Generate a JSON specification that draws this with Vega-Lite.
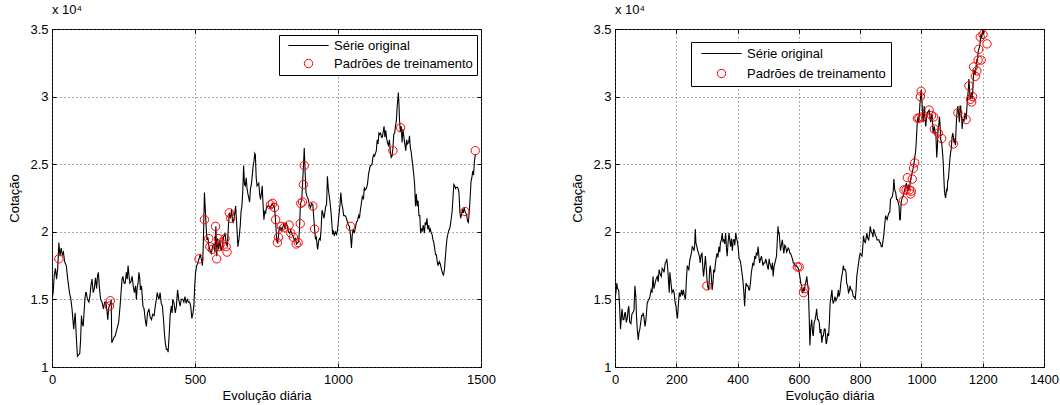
{
"$schema": "https://vega.github.io/schema/vega-lite/v6.json",
"padding": {"left": 8, "top": 3, "right": 5, "bottom": 2},
"background": "white",
"config": {
  "font": "Liberation Sans",
  "view": {"stroke": "black", "strokeWidth": 1},
  "axis": {"labelFont": "Liberation Sans", "titleFont": "Liberation Sans", "labelFontSize": 13, "titleFontSize": 13, "titleFontWeight": "normal", "labelColor": "black", "titleColor": "black", "tickColor": "black", "domain": false, "labelFlush": false, "gridColor": "#555", "gridDash": [1, 3], "gridOpacity": 1, "gridWidth": 1},
  "legend": {"labelFont": "Liberation Sans", "labelFontSize": 13, "labelColor": "black", "strokeColor": "black", "fillColor": "white", "padding": 4, "symbolStrokeWidth": 1, "symbolFillColor": "transparent", "symbolSize": 70, "rowPadding": 4, "symbolOffset": 19, "labelOffset": 19, "labelLimit": 300}
},
"datasets": {
"serieA": [
{"dia":0,"cotacao":15000},{"dia":4,"cotacao":15500},{"dia":8,"cotacao":16800},{"dia":12,"cotacao":17300},{"dia":16,"cotacao":16500},{"dia":20,"cotacao":17300},{"dia":24,"cotacao":19200},{"dia":28,"cotacao":18200},{"dia":32,"cotacao":18800},{"dia":36,"cotacao":18300},{"dia":40,"cotacao":18500},{"dia":44,"cotacao":17800},{"dia":50,"cotacao":17500},{"dia":55,"cotacao":16500},{"dia":61,"cotacao":15500},{"dia":66,"cotacao":15000},{"dia":70,"cotacao":14300},{"dia":73,"cotacao":13500},{"dia":76,"cotacao":12800},{"dia":79,"cotacao":13600},{"dia":81,"cotacao":14000},{"dia":85,"cotacao":12200},{"dia":89,"cotacao":10800},{"dia":93,"cotacao":10900},{"dia":97,"cotacao":11000},{"dia":100,"cotacao":12000},{"dia":103,"cotacao":13800},{"dia":106,"cotacao":13200},{"dia":109,"cotacao":13000},{"dia":112,"cotacao":14000},{"dia":115,"cotacao":15000},{"dia":118,"cotacao":15500},{"dia":120,"cotacao":15500},{"dia":124,"cotacao":15000},{"dia":129,"cotacao":14800},{"dia":133,"cotacao":15300},{"dia":136,"cotacao":16000},{"dia":140,"cotacao":16500},{"dia":144,"cotacao":15500},{"dia":148,"cotacao":15800},{"dia":152,"cotacao":16600},{"dia":156,"cotacao":15800},{"dia":159,"cotacao":16700},{"dia":162,"cotacao":17000},{"dia":166,"cotacao":15800},{"dia":170,"cotacao":15000},{"dia":175,"cotacao":14800},{"dia":180,"cotacao":14300},{"dia":184,"cotacao":14800},{"dia":188,"cotacao":14800},{"dia":192,"cotacao":14200},{"dia":195,"cotacao":13500},{"dia":198,"cotacao":14300},{"dia":200,"cotacao":14500},{"dia":204,"cotacao":14700},{"dia":207,"cotacao":15000},{"dia":209,"cotacao":11800},{"dia":213,"cotacao":12000},{"dia":217,"cotacao":12200},{"dia":221,"cotacao":12300},{"dia":227,"cotacao":12800},{"dia":233,"cotacao":13300},{"dia":238,"cotacao":14500},{"dia":242,"cotacao":15700},{"dia":245,"cotacao":16500},{"dia":248,"cotacao":16700},{"dia":252,"cotacao":16200},{"dia":256,"cotacao":16200},{"dia":260,"cotacao":17000},{"dia":263,"cotacao":16500},{"dia":266,"cotacao":17500},{"dia":269,"cotacao":16800},{"dia":272,"cotacao":16200},{"dia":276,"cotacao":16300},{"dia":280,"cotacao":16700},{"dia":284,"cotacao":16000},{"dia":288,"cotacao":15500},{"dia":292,"cotacao":16000},{"dia":295,"cotacao":15000},{"dia":298,"cotacao":15900},{"dia":301,"cotacao":16200},{"dia":304,"cotacao":17000},{"dia":307,"cotacao":16500},{"dia":309,"cotacao":15700},{"dia":313,"cotacao":16000},{"dia":318,"cotacao":14500},{"dia":322,"cotacao":14300},{"dia":326,"cotacao":13500},{"dia":330,"cotacao":13000},{"dia":334,"cotacao":14000},{"dia":339,"cotacao":14300},{"dia":343,"cotacao":13700},{"dia":348,"cotacao":13500},{"dia":352,"cotacao":13900},{"dia":357,"cotacao":13800},{"dia":361,"cotacao":14500},{"dia":365,"cotacao":15000},{"dia":368,"cotacao":15500},{"dia":371,"cotacao":15200},{"dia":374,"cotacao":15000},{"dia":378,"cotacao":15500},{"dia":382,"cotacao":14700},{"dia":386,"cotacao":14500},{"dia":390,"cotacao":13500},{"dia":393,"cotacao":12500},{"dia":396,"cotacao":11800},{"dia":400,"cotacao":11300},{"dia":404,"cotacao":11300},{"dia":406,"cotacao":11100},{"dia":410,"cotacao":12500},{"dia":413,"cotacao":13800},{"dia":417,"cotacao":14500},{"dia":420,"cotacao":14000},{"dia":422,"cotacao":15000},{"dia":426,"cotacao":14800},{"dia":431,"cotacao":14000},{"dia":435,"cotacao":14500},{"dia":439,"cotacao":15700},{"dia":443,"cotacao":15000},{"dia":448,"cotacao":14500},{"dia":452,"cotacao":15000},{"dia":457,"cotacao":15000},{"dia":461,"cotacao":14800},{"dia":465,"cotacao":15200},{"dia":469,"cotacao":14700},{"dia":473,"cotacao":15000},{"dia":477,"cotacao":14800},{"dia":481,"cotacao":14800},{"dia":485,"cotacao":14500},{"dia":489,"cotacao":13600},{"dia":493,"cotacao":14000},{"dia":496,"cotacao":14500},{"dia":499,"cotacao":16000},{"dia":502,"cotacao":17000},{"dia":506,"cotacao":17500},{"dia":510,"cotacao":17700},{"dia":514,"cotacao":18000},{"dia":518,"cotacao":18300},{"dia":522,"cotacao":18000},{"dia":526,"cotacao":17500},{"dia":529,"cotacao":19000},{"dia":533,"cotacao":22900},{"dia":537,"cotacao":21200},{"dia":540,"cotacao":20000},{"dia":542,"cotacao":19400},{"dia":545,"cotacao":19600},{"dia":549,"cotacao":18900},{"dia":553,"cotacao":18600},{"dia":557,"cotacao":18400},{"dia":561,"cotacao":18900},{"dia":566,"cotacao":19100},{"dia":570,"cotacao":18500},{"dia":573,"cotacao":20400},{"dia":576,"cotacao":18200},{"dia":579,"cotacao":19500},{"dia":583,"cotacao":18700},{"dia":587,"cotacao":19400},{"dia":591,"cotacao":18600},{"dia":595,"cotacao":18900},{"dia":600,"cotacao":19600},{"dia":605,"cotacao":19900},{"dia":609,"cotacao":19200},{"dia":613,"cotacao":18900},{"dia":617,"cotacao":20500},{"dia":620,"cotacao":21400},{"dia":624,"cotacao":21000},{"dia":628,"cotacao":21700},{"dia":631,"cotacao":20800},{"dia":634,"cotacao":20700},{"dia":638,"cotacao":21200},{"dia":642,"cotacao":21900},{"dia":646,"cotacao":20500},{"dia":650,"cotacao":18900},{"dia":654,"cotacao":19500},{"dia":658,"cotacao":20400},{"dia":661,"cotacao":21500},{"dia":664,"cotacao":21900},{"dia":667,"cotacao":23000},{"dia":670,"cotacao":24900},{"dia":673,"cotacao":23500},{"dia":676,"cotacao":23400},{"dia":679,"cotacao":24000},{"dia":682,"cotacao":23200},{"dia":685,"cotacao":22800},{"dia":688,"cotacao":22500},{"dia":691,"cotacao":22200},{"dia":694,"cotacao":23200},{"dia":697,"cotacao":23500},{"dia":700,"cotacao":24100},{"dia":703,"cotacao":24800},{"dia":706,"cotacao":25200},{"dia":709,"cotacao":25800},{"dia":711,"cotacao":25700},{"dia":714,"cotacao":24000},{"dia":717,"cotacao":23400},{"dia":720,"cotacao":23500},{"dia":723,"cotacao":23600},{"dia":726,"cotacao":22800},{"dia":729,"cotacao":22400},{"dia":732,"cotacao":22800},{"dia":735,"cotacao":23400},{"dia":738,"cotacao":22000},{"dia":741,"cotacao":20900},{"dia":744,"cotacao":21500},{"dia":747,"cotacao":21400},{"dia":750,"cotacao":21800},{"dia":754,"cotacao":21900},{"dia":758,"cotacao":21900},{"dia":762,"cotacao":21800},{"dia":766,"cotacao":21900},{"dia":770,"cotacao":22100},{"dia":774,"cotacao":21900},{"dia":778,"cotacao":21800},{"dia":781,"cotacao":21000},{"dia":784,"cotacao":20000},{"dia":786,"cotacao":19300},{"dia":789,"cotacao":19200},{"dia":792,"cotacao":19700},{"dia":795,"cotacao":20400},{"dia":798,"cotacao":20200},{"dia":801,"cotacao":20300},{"dia":804,"cotacao":20100},{"dia":808,"cotacao":20400},{"dia":811,"cotacao":20600},{"dia":815,"cotacao":20200},{"dia":819,"cotacao":20700},{"dia":823,"cotacao":20400},{"dia":827,"cotacao":20000},{"dia":831,"cotacao":19900},{"dia":835,"cotacao":20100},{"dia":839,"cotacao":19800},{"dia":843,"cotacao":19700},{"dia":847,"cotacao":19400},{"dia":851,"cotacao":19500},{"dia":855,"cotacao":19100},{"dia":859,"cotacao":19200},{"dia":863,"cotacao":19300},{"dia":866,"cotacao":20600},{"dia":868,"cotacao":21700},{"dia":870,"cotacao":22200},{"dia":873,"cotacao":22300},{"dia":876,"cotacao":23500},{"dia":879,"cotacao":24800},{"dia":882,"cotacao":26200},{"dia":885,"cotacao":24500},{"dia":888,"cotacao":22900},{"dia":892,"cotacao":22600},{"dia":896,"cotacao":22400},{"dia":900,"cotacao":22000},{"dia":904,"cotacao":21800},{"dia":908,"cotacao":22100},{"dia":912,"cotacao":22000},{"dia":915,"cotacao":21100},{"dia":918,"cotacao":20300},{"dia":921,"cotacao":19500},{"dia":924,"cotacao":19600},{"dia":927,"cotacao":19000},{"dia":929,"cotacao":18700},{"dia":932,"cotacao":19300},{"dia":935,"cotacao":19500},{"dia":938,"cotacao":19400},{"dia":941,"cotacao":20200},{"dia":944,"cotacao":21600},{"dia":947,"cotacao":21400},{"dia":951,"cotacao":21000},{"dia":954,"cotacao":21400},{"dia":957,"cotacao":21900},{"dia":960,"cotacao":22000},{"dia":963,"cotacao":24100},{"dia":966,"cotacao":23200},{"dia":969,"cotacao":22700},{"dia":972,"cotacao":22200},{"dia":975,"cotacao":21600},{"dia":978,"cotacao":20800},{"dia":981,"cotacao":19800},{"dia":984,"cotacao":20100},{"dia":987,"cotacao":19700},{"dia":991,"cotacao":20000},{"dia":995,"cotacao":19800},{"dia":998,"cotacao":20100},{"dia":1001,"cotacao":20700},{"dia":1004,"cotacao":21400},{"dia":1007,"cotacao":22000},{"dia":1010,"cotacao":22900},{"dia":1013,"cotacao":22100},{"dia":1016,"cotacao":21800},{"dia":1020,"cotacao":21200},{"dia":1024,"cotacao":21200},{"dia":1028,"cotacao":21100},{"dia":1032,"cotacao":20800},{"dia":1036,"cotacao":20500},{"dia":1040,"cotacao":20400},{"dia":1044,"cotacao":19700},{"dia":1047,"cotacao":18800},{"dia":1050,"cotacao":19800},{"dia":1053,"cotacao":20200},{"dia":1057,"cotacao":19900},{"dia":1061,"cotacao":20300},{"dia":1064,"cotacao":20700},{"dia":1068,"cotacao":20800},{"dia":1072,"cotacao":21200},{"dia":1075,"cotacao":21000},{"dia":1077,"cotacao":21400},{"dia":1081,"cotacao":22000},{"dia":1085,"cotacao":22600},{"dia":1089,"cotacao":22400},{"dia":1092,"cotacao":23300},{"dia":1095,"cotacao":23100},{"dia":1099,"cotacao":23200},{"dia":1103,"cotacao":23500},{"dia":1107,"cotacao":24300},{"dia":1110,"cotacao":24600},{"dia":1113,"cotacao":24900},{"dia":1116,"cotacao":24900},{"dia":1119,"cotacao":25000},{"dia":1122,"cotacao":25500},{"dia":1125,"cotacao":25700},{"dia":1128,"cotacao":25600},{"dia":1131,"cotacao":25800},{"dia":1134,"cotacao":26000},{"dia":1137,"cotacao":26800},{"dia":1140,"cotacao":26500},{"dia":1143,"cotacao":27300},{"dia":1146,"cotacao":27200},{"dia":1149,"cotacao":27300},{"dia":1152,"cotacao":27000},{"dia":1155,"cotacao":27000},{"dia":1158,"cotacao":27400},{"dia":1161,"cotacao":27800},{"dia":1164,"cotacao":27000},{"dia":1167,"cotacao":27500},{"dia":1170,"cotacao":26900},{"dia":1173,"cotacao":26600},{"dia":1176,"cotacao":26400},{"dia":1180,"cotacao":26800},{"dia":1183,"cotacao":25900},{"dia":1186,"cotacao":25500},{"dia":1189,"cotacao":25600},{"dia":1192,"cotacao":26200},{"dia":1195,"cotacao":27200},{"dia":1198,"cotacao":27300},{"dia":1201,"cotacao":27800},{"dia":1204,"cotacao":28200},{"dia":1207,"cotacao":29300},{"dia":1210,"cotacao":30000},{"dia":1211,"cotacao":30300},{"dia":1213,"cotacao":29500},{"dia":1215,"cotacao":28300},{"dia":1218,"cotacao":27400},{"dia":1221,"cotacao":27800},{"dia":1224,"cotacao":26600},{"dia":1227,"cotacao":27600},{"dia":1230,"cotacao":27100},{"dia":1233,"cotacao":26600},{"dia":1237,"cotacao":26000},{"dia":1240,"cotacao":26800},{"dia":1243,"cotacao":26500},{"dia":1247,"cotacao":26600},{"dia":1250,"cotacao":27100},{"dia":1253,"cotacao":26200},{"dia":1256,"cotacao":25900},{"dia":1259,"cotacao":25300},{"dia":1262,"cotacao":24800},{"dia":1265,"cotacao":24200},{"dia":1268,"cotacao":23500},{"dia":1271,"cotacao":21900},{"dia":1274,"cotacao":22800},{"dia":1277,"cotacao":21900},{"dia":1280,"cotacao":22300},{"dia":1283,"cotacao":21200},{"dia":1286,"cotacao":21200},{"dia":1289,"cotacao":19900},{"dia":1292,"cotacao":20200},{"dia":1295,"cotacao":20100},{"dia":1298,"cotacao":20500},{"dia":1302,"cotacao":19900},{"dia":1305,"cotacao":20700},{"dia":1308,"cotacao":20500},{"dia":1311,"cotacao":21000},{"dia":1314,"cotacao":20200},{"dia":1317,"cotacao":20500},{"dia":1320,"cotacao":20000},{"dia":1323,"cotacao":20200},{"dia":1326,"cotacao":19900},{"dia":1329,"cotacao":19800},{"dia":1332,"cotacao":19400},{"dia":1335,"cotacao":19200},{"dia":1338,"cotacao":18800},{"dia":1341,"cotacao":18300},{"dia":1344,"cotacao":18300},{"dia":1347,"cotacao":17800},{"dia":1350,"cotacao":17500},{"dia":1354,"cotacao":17800},{"dia":1358,"cotacao":17600},{"dia":1362,"cotacao":17200},{"dia":1366,"cotacao":16900},{"dia":1369,"cotacao":16800},{"dia":1372,"cotacao":17200},{"dia":1375,"cotacao":18000},{"dia":1378,"cotacao":18800},{"dia":1381,"cotacao":19500},{"dia":1384,"cotacao":19800},{"dia":1387,"cotacao":20100},{"dia":1390,"cotacao":20200},{"dia":1393,"cotacao":20500},{"dia":1396,"cotacao":21000},{"dia":1399,"cotacao":21500},{"dia":1402,"cotacao":22500},{"dia":1405,"cotacao":23500},{"dia":1408,"cotacao":23400},{"dia":1411,"cotacao":23200},{"dia":1414,"cotacao":23300},{"dia":1417,"cotacao":23300},{"dia":1420,"cotacao":23200},{"dia":1423,"cotacao":22900},{"dia":1426,"cotacao":21500},{"dia":1429,"cotacao":21000},{"dia":1432,"cotacao":21300},{"dia":1435,"cotacao":21600},{"dia":1438,"cotacao":21400},{"dia":1441,"cotacao":21800},{"dia":1444,"cotacao":21500},{"dia":1447,"cotacao":21400},{"dia":1450,"cotacao":21200},{"dia":1453,"cotacao":20800},{"dia":1456,"cotacao":20700},{"dia":1459,"cotacao":21500},{"dia":1462,"cotacao":22500},{"dia":1465,"cotacao":23700},{"dia":1468,"cotacao":24000},{"dia":1471,"cotacao":24500},{"dia":1474,"cotacao":24200},{"dia":1477,"cotacao":25200},{"dia":1480,"cotacao":25700},{"dia":1482,"cotacao":25700}
],
"treinoA": [
{"dia":24,"cotacao":18000},{"dia":201,"cotacao":14500},{"dia":204,"cotacao":14900},{"dia":514,"cotacao":18000},{"dia":533,"cotacao":20900},{"dia":548,"cotacao":19500},{"dia":552,"cotacao":18900},{"dia":561,"cotacao":18700},{"dia":572,"cotacao":20400},{"dia":576,"cotacao":18000},{"dia":582,"cotacao":19500},{"dia":586,"cotacao":18900},{"dia":592,"cotacao":19200},{"dia":605,"cotacao":19500},{"dia":609,"cotacao":18900},{"dia":612,"cotacao":18500},{"dia":620,"cotacao":21400},{"dia":625,"cotacao":21000},{"dia":764,"cotacao":22000},{"dia":771,"cotacao":22100},{"dia":778,"cotacao":21800},{"dia":782,"cotacao":20900},{"dia":788,"cotacao":19200},{"dia":792,"cotacao":19600},{"dia":802,"cotacao":20400},{"dia":811,"cotacao":20300},{"dia":829,"cotacao":20500},{"dia":835,"cotacao":19900},{"dia":844,"cotacao":19600},{"dia":854,"cotacao":19100},{"dia":861,"cotacao":19200},{"dia":868,"cotacao":20600},{"dia":870,"cotacao":22100},{"dia":876,"cotacao":22200},{"dia":879,"cotacao":23500},{"dia":882,"cotacao":24900},{"dia":912,"cotacao":21900},{"dia":918,"cotacao":20200},{"dia":1044,"cotacao":20400},{"dia":1192,"cotacao":26000},{"dia":1219,"cotacao":27700},{"dia":1444,"cotacao":21500},{"dia":1480,"cotacao":26000}
],
"serieB": [
{"dia":0,"cotacao":15000},{"dia":3,"cotacao":15500},{"dia":6,"cotacao":16200},{"dia":8,"cotacao":15800},{"dia":12,"cotacao":15700},{"dia":15,"cotacao":14500},{"dia":18,"cotacao":12800},{"dia":21,"cotacao":13800},{"dia":23,"cotacao":14300},{"dia":26,"cotacao":13500},{"dia":29,"cotacao":13500},{"dia":32,"cotacao":14000},{"dia":34,"cotacao":14000},{"dia":37,"cotacao":13300},{"dia":40,"cotacao":13600},{"dia":43,"cotacao":14300},{"dia":45,"cotacao":14500},{"dia":48,"cotacao":13300},{"dia":52,"cotacao":13200},{"dia":55,"cotacao":13900},{"dia":58,"cotacao":14000},{"dia":62,"cotacao":14200},{"dia":65,"cotacao":16000},{"dia":68,"cotacao":15200},{"dia":70,"cotacao":13800},{"dia":73,"cotacao":12700},{"dia":76,"cotacao":12000},{"dia":78,"cotacao":12500},{"dia":81,"cotacao":12800},{"dia":84,"cotacao":13300},{"dia":87,"cotacao":13800},{"dia":90,"cotacao":13800},{"dia":92,"cotacao":14000},{"dia":95,"cotacao":13600},{"dia":98,"cotacao":13000},{"dia":101,"cotacao":13500},{"dia":105,"cotacao":14700},{"dia":108,"cotacao":14900},{"dia":111,"cotacao":15000},{"dia":114,"cotacao":15200},{"dia":118,"cotacao":15700},{"dia":121,"cotacao":15500},{"dia":124,"cotacao":16700},{"dia":127,"cotacao":15800},{"dia":131,"cotacao":16200},{"dia":134,"cotacao":16500},{"dia":138,"cotacao":16700},{"dia":141,"cotacao":16300},{"dia":144,"cotacao":17200},{"dia":147,"cotacao":16900},{"dia":151,"cotacao":16700},{"dia":154,"cotacao":17300},{"dia":157,"cotacao":17200},{"dia":160,"cotacao":17000},{"dia":164,"cotacao":17700},{"dia":167,"cotacao":17800},{"dia":169,"cotacao":18000},{"dia":172,"cotacao":17300},{"dia":175,"cotacao":16200},{"dia":177,"cotacao":15500},{"dia":179,"cotacao":17000},{"dia":182,"cotacao":16400},{"dia":186,"cotacao":15500},{"dia":190,"cotacao":15700},{"dia":193,"cotacao":15500},{"dia":196,"cotacao":14800},{"dia":199,"cotacao":14500},{"dia":202,"cotacao":13800},{"dia":204,"cotacao":13600},{"dia":207,"cotacao":14700},{"dia":210,"cotacao":15500},{"dia":213,"cotacao":15200},{"dia":217,"cotacao":15700},{"dia":220,"cotacao":15300},{"dia":223,"cotacao":15700},{"dia":226,"cotacao":15300},{"dia":230,"cotacao":15000},{"dia":233,"cotacao":16500},{"dia":236,"cotacao":17500},{"dia":239,"cotacao":17300},{"dia":241,"cotacao":17200},{"dia":244,"cotacao":17900},{"dia":247,"cotacao":18200},{"dia":250,"cotacao":18500},{"dia":252,"cotacao":18900},{"dia":255,"cotacao":18800},{"dia":258,"cotacao":18600},{"dia":260,"cotacao":19000},{"dia":262,"cotacao":20200},{"dia":264,"cotacao":19200},{"dia":267,"cotacao":18900},{"dia":270,"cotacao":18600},{"dia":273,"cotacao":18400},{"dia":276,"cotacao":18100},{"dia":278,"cotacao":17700},{"dia":281,"cotacao":18300},{"dia":284,"cotacao":18400},{"dia":287,"cotacao":17200},{"dia":289,"cotacao":16700},{"dia":292,"cotacao":17400},{"dia":295,"cotacao":18200},{"dia":298,"cotacao":17300},{"dia":300,"cotacao":16500},{"dia":303,"cotacao":15900},{"dia":306,"cotacao":15700},{"dia":309,"cotacao":17200},{"dia":311,"cotacao":17500},{"dia":314,"cotacao":16800},{"dia":317,"cotacao":15700},{"dia":320,"cotacao":16300},{"dia":322,"cotacao":17200},{"dia":325,"cotacao":17000},{"dia":328,"cotacao":17700},{"dia":331,"cotacao":18200},{"dia":333,"cotacao":18400},{"dia":336,"cotacao":18100},{"dia":339,"cotacao":18900},{"dia":342,"cotacao":18500},{"dia":344,"cotacao":19200},{"dia":347,"cotacao":19400},{"dia":350,"cotacao":19900},{"dia":352,"cotacao":19300},{"dia":355,"cotacao":19400},{"dia":358,"cotacao":19100},{"dia":361,"cotacao":19900},{"dia":364,"cotacao":18700},{"dia":366,"cotacao":18200},{"dia":369,"cotacao":19200},{"dia":372,"cotacao":19900},{"dia":375,"cotacao":19300},{"dia":377,"cotacao":18900},{"dia":380,"cotacao":19500},{"dia":383,"cotacao":18600},{"dia":386,"cotacao":19400},{"dia":389,"cotacao":19400},{"dia":391,"cotacao":19000},{"dia":394,"cotacao":19900},{"dia":397,"cotacao":19500},{"dia":400,"cotacao":19200},{"dia":403,"cotacao":18600},{"dia":405,"cotacao":18000},{"dia":408,"cotacao":17900},{"dia":410,"cotacao":17700},{"dia":413,"cotacao":17200},{"dia":417,"cotacao":16500},{"dia":420,"cotacao":15700},{"dia":423,"cotacao":14500},{"dia":426,"cotacao":15800},{"dia":428,"cotacao":16200},{"dia":431,"cotacao":16000},{"dia":434,"cotacao":16000},{"dia":437,"cotacao":15700},{"dia":439,"cotacao":15700},{"dia":442,"cotacao":16200},{"dia":445,"cotacao":17000},{"dia":448,"cotacao":17400},{"dia":450,"cotacao":17700},{"dia":453,"cotacao":17500},{"dia":456,"cotacao":18200},{"dia":459,"cotacao":18000},{"dia":461,"cotacao":18400},{"dia":464,"cotacao":18300},{"dia":467,"cotacao":18900},{"dia":470,"cotacao":18100},{"dia":472,"cotacao":17700},{"dia":475,"cotacao":18000},{"dia":478,"cotacao":18200},{"dia":481,"cotacao":17800},{"dia":483,"cotacao":17500},{"dia":486,"cotacao":17700},{"dia":489,"cotacao":17700},{"dia":492,"cotacao":18000},{"dia":494,"cotacao":17800},{"dia":497,"cotacao":17500},{"dia":500,"cotacao":17200},{"dia":503,"cotacao":18000},{"dia":505,"cotacao":17700},{"dia":508,"cotacao":17500},{"dia":511,"cotacao":17200},{"dia":514,"cotacao":17700},{"dia":516,"cotacao":16700},{"dia":519,"cotacao":17400},{"dia":522,"cotacao":17700},{"dia":525,"cotacao":18000},{"dia":527,"cotacao":18200},{"dia":530,"cotacao":19500},{"dia":532,"cotacao":20400},{"dia":534,"cotacao":19900},{"dia":536,"cotacao":19900},{"dia":538,"cotacao":19200},{"dia":540,"cotacao":18600},{"dia":543,"cotacao":19000},{"dia":546,"cotacao":19400},{"dia":548,"cotacao":19000},{"dia":551,"cotacao":18400},{"dia":554,"cotacao":19000},{"dia":557,"cotacao":18900},{"dia":560,"cotacao":18500},{"dia":562,"cotacao":18600},{"dia":565,"cotacao":18800},{"dia":568,"cotacao":18700},{"dia":571,"cotacao":18400},{"dia":573,"cotacao":18400},{"dia":576,"cotacao":18200},{"dia":579,"cotacao":18000},{"dia":582,"cotacao":17700},{"dia":584,"cotacao":17700},{"dia":587,"cotacao":17500},{"dia":591,"cotacao":17500},{"dia":595,"cotacao":17400},{"dia":598,"cotacao":17300},{"dia":601,"cotacao":17000},{"dia":604,"cotacao":16600},{"dia":606,"cotacao":16200},{"dia":609,"cotacao":16000},{"dia":611,"cotacao":15500},{"dia":613,"cotacao":15500},{"dia":616,"cotacao":15900},{"dia":618,"cotacao":15600},{"dia":620,"cotacao":16000},{"dia":623,"cotacao":16300},{"dia":626,"cotacao":16700},{"dia":628,"cotacao":16200},{"dia":631,"cotacao":15700},{"dia":634,"cotacao":13500},{"dia":636,"cotacao":11600},{"dia":639,"cotacao":13000},{"dia":642,"cotacao":13500},{"dia":645,"cotacao":12500},{"dia":647,"cotacao":12300},{"dia":650,"cotacao":13300},{"dia":653,"cotacao":13500},{"dia":656,"cotacao":13900},{"dia":658,"cotacao":14300},{"dia":661,"cotacao":13500},{"dia":664,"cotacao":13500},{"dia":667,"cotacao":13200},{"dia":669,"cotacao":12500},{"dia":672,"cotacao":12800},{"dia":675,"cotacao":11800},{"dia":678,"cotacao":12300},{"dia":680,"cotacao":12300},{"dia":683,"cotacao":12800},{"dia":686,"cotacao":12800},{"dia":689,"cotacao":11700},{"dia":691,"cotacao":11800},{"dia":694,"cotacao":12500},{"dia":697,"cotacao":12300},{"dia":700,"cotacao":13500},{"dia":702,"cotacao":14700},{"dia":705,"cotacao":15200},{"dia":708,"cotacao":15700},{"dia":710,"cotacao":15000},{"dia":712,"cotacao":14700},{"dia":715,"cotacao":14900},{"dia":718,"cotacao":15200},{"dia":721,"cotacao":14900},{"dia":723,"cotacao":15000},{"dia":726,"cotacao":15200},{"dia":729,"cotacao":15700},{"dia":731,"cotacao":15200},{"dia":734,"cotacao":15500},{"dia":737,"cotacao":16200},{"dia":740,"cotacao":16700},{"dia":743,"cotacao":17100},{"dia":745,"cotacao":17500},{"dia":748,"cotacao":17200},{"dia":751,"cotacao":17200},{"dia":754,"cotacao":17000},{"dia":756,"cotacao":16200},{"dia":759,"cotacao":16000},{"dia":762,"cotacao":15500},{"dia":764,"cotacao":15600},{"dia":767,"cotacao":16000},{"dia":770,"cotacao":15700},{"dia":773,"cotacao":15700},{"dia":775,"cotacao":15500},{"dia":778,"cotacao":15200},{"dia":781,"cotacao":15200},{"dia":784,"cotacao":15000},{"dia":787,"cotacao":15800},{"dia":789,"cotacao":16700},{"dia":792,"cotacao":17200},{"dia":795,"cotacao":17700},{"dia":798,"cotacao":18200},{"dia":800,"cotacao":18400},{"dia":803,"cotacao":18300},{"dia":806,"cotacao":18200},{"dia":808,"cotacao":18700},{"dia":811,"cotacao":19700},{"dia":814,"cotacao":19300},{"dia":817,"cotacao":19200},{"dia":820,"cotacao":19600},{"dia":822,"cotacao":19900},{"dia":825,"cotacao":19500},{"dia":828,"cotacao":19400},{"dia":831,"cotacao":19900},{"dia":833,"cotacao":20400},{"dia":836,"cotacao":20000},{"dia":839,"cotacao":19900},{"dia":842,"cotacao":19600},{"dia":844,"cotacao":20200},{"dia":847,"cotacao":20000},{"dia":850,"cotacao":19700},{"dia":853,"cotacao":19600},{"dia":855,"cotacao":19400},{"dia":858,"cotacao":19400},{"dia":861,"cotacao":19400},{"dia":864,"cotacao":19200},{"dia":866,"cotacao":19200},{"dia":869,"cotacao":18900},{"dia":872,"cotacao":18900},{"dia":875,"cotacao":19400},{"dia":877,"cotacao":19700},{"dia":880,"cotacao":20500},{"dia":883,"cotacao":21200},{"dia":886,"cotacao":21000},{"dia":888,"cotacao":20900},{"dia":891,"cotacao":21200},{"dia":894,"cotacao":21400},{"dia":897,"cotacao":21500},{"dia":899,"cotacao":22400},{"dia":902,"cotacao":22500},{"dia":905,"cotacao":22600},{"dia":908,"cotacao":23000},{"dia":910,"cotacao":23900},{"dia":913,"cotacao":23100},{"dia":916,"cotacao":22900},{"dia":919,"cotacao":22400},{"dia":921,"cotacao":22400},{"dia":924,"cotacao":22200},{"dia":927,"cotacao":21900},{"dia":929,"cotacao":20900},{"dia":931,"cotacao":20900},{"dia":934,"cotacao":22200},{"dia":937,"cotacao":22500},{"dia":940,"cotacao":22600},{"dia":943,"cotacao":22900},{"dia":946,"cotacao":23200},{"dia":948,"cotacao":23400},{"dia":951,"cotacao":23600},{"dia":954,"cotacao":23000},{"dia":957,"cotacao":23500},{"dia":959,"cotacao":23100},{"dia":962,"cotacao":23400},{"dia":965,"cotacao":23900},{"dia":968,"cotacao":24200},{"dia":970,"cotacao":24400},{"dia":973,"cotacao":24700},{"dia":976,"cotacao":25100},{"dia":978,"cotacao":25500},{"dia":981,"cotacao":25900},{"dia":983,"cotacao":26600},{"dia":985,"cotacao":27500},{"dia":987,"cotacao":28300},{"dia":989,"cotacao":28500},{"dia":991,"cotacao":28100},{"dia":993,"cotacao":28600},{"dia":995,"cotacao":29400},{"dia":997,"cotacao":29900},{"dia":999,"cotacao":30500},{"dia":1000,"cotacao":30200},{"dia":1002,"cotacao":29600},{"dia":1004,"cotacao":28500},{"dia":1006,"cotacao":28100},{"dia":1009,"cotacao":29300},{"dia":1011,"cotacao":28600},{"dia":1014,"cotacao":27800},{"dia":1017,"cotacao":28500},{"dia":1019,"cotacao":28800},{"dia":1022,"cotacao":28900},{"dia":1025,"cotacao":29000},{"dia":1027,"cotacao":28600},{"dia":1030,"cotacao":28100},{"dia":1033,"cotacao":28600},{"dia":1035,"cotacao":28700},{"dia":1038,"cotacao":27300},{"dia":1040,"cotacao":27600},{"dia":1042,"cotacao":27800},{"dia":1045,"cotacao":27300},{"dia":1047,"cotacao":27300},{"dia":1050,"cotacao":25500},{"dia":1052,"cotacao":26200},{"dia":1054,"cotacao":27500},{"dia":1057,"cotacao":28000},{"dia":1059,"cotacao":28500},{"dia":1061,"cotacao":27800},{"dia":1063,"cotacao":26800},{"dia":1066,"cotacao":26600},{"dia":1068,"cotacao":26100},{"dia":1071,"cotacao":25200},{"dia":1073,"cotacao":24100},{"dia":1075,"cotacao":23100},{"dia":1077,"cotacao":22700},{"dia":1079,"cotacao":22500},{"dia":1082,"cotacao":23100},{"dia":1084,"cotacao":23000},{"dia":1086,"cotacao":23800},{"dia":1088,"cotacao":23900},{"dia":1091,"cotacao":24800},{"dia":1093,"cotacao":25400},{"dia":1095,"cotacao":25800},{"dia":1097,"cotacao":26100},{"dia":1100,"cotacao":27000},{"dia":1102,"cotacao":27300},{"dia":1104,"cotacao":27100},{"dia":1106,"cotacao":26600},{"dia":1108,"cotacao":26900},{"dia":1111,"cotacao":26400},{"dia":1113,"cotacao":27600},{"dia":1115,"cotacao":28500},{"dia":1117,"cotacao":29000},{"dia":1119,"cotacao":29300},{"dia":1122,"cotacao":28600},{"dia":1124,"cotacao":28100},{"dia":1126,"cotacao":29300},{"dia":1128,"cotacao":29300},{"dia":1131,"cotacao":28400},{"dia":1133,"cotacao":27600},{"dia":1135,"cotacao":28300},{"dia":1137,"cotacao":28300},{"dia":1139,"cotacao":28200},{"dia":1142,"cotacao":28800},{"dia":1144,"cotacao":28600},{"dia":1146,"cotacao":28300},{"dia":1148,"cotacao":29000},{"dia":1150,"cotacao":29800},{"dia":1153,"cotacao":30500},{"dia":1155,"cotacao":31300},{"dia":1157,"cotacao":30500},{"dia":1159,"cotacao":29800},{"dia":1161,"cotacao":30000},{"dia":1164,"cotacao":30300},{"dia":1166,"cotacao":29800},{"dia":1168,"cotacao":30600},{"dia":1170,"cotacao":31700},{"dia":1172,"cotacao":32000},{"dia":1175,"cotacao":31600},{"dia":1177,"cotacao":31900},{"dia":1179,"cotacao":32400},{"dia":1181,"cotacao":32700},{"dia":1183,"cotacao":32600},{"dia":1185,"cotacao":33300},{"dia":1187,"cotacao":33500},{"dia":1190,"cotacao":33700},{"dia":1192,"cotacao":34100},{"dia":1194,"cotacao":34600},{"dia":1196,"cotacao":34300},{"dia":1199,"cotacao":34700},{"dia":1201,"cotacao":35000},{"dia":1203,"cotacao":34600},{"dia":1205,"cotacao":34900}
],
"treinoB": [
{"dia":300,"cotacao":16000},{"dia":595,"cotacao":17400},{"dia":601,"cotacao":17400},{"dia":615,"cotacao":15500},{"dia":620,"cotacao":15800},{"dia":941,"cotacao":22300},{"dia":943,"cotacao":23100},{"dia":950,"cotacao":23100},{"dia":954,"cotacao":24000},{"dia":961,"cotacao":23100},{"dia":965,"cotacao":22800},{"dia":967,"cotacao":23000},{"dia":970,"cotacao":23900},{"dia":974,"cotacao":24700},{"dia":978,"cotacao":25100},{"dia":987,"cotacao":28400},{"dia":992,"cotacao":28400},{"dia":997,"cotacao":30000},{"dia":999,"cotacao":30400},{"dia":1003,"cotacao":28500},{"dia":1025,"cotacao":29000},{"dia":1033,"cotacao":28600},{"dia":1040,"cotacao":28500},{"dia":1042,"cotacao":27600},{"dia":1055,"cotacao":27300},{"dia":1066,"cotacao":26900},{"dia":1104,"cotacao":26500},{"dia":1119,"cotacao":28800},{"dia":1146,"cotacao":28300},{"dia":1155,"cotacao":30800},{"dia":1160,"cotacao":29800},{"dia":1164,"cotacao":29600},{"dia":1167,"cotacao":30000},{"dia":1170,"cotacao":32200},{"dia":1176,"cotacao":31500},{"dia":1181,"cotacao":31900},{"dia":1185,"cotacao":32700},{"dia":1187,"cotacao":33500},{"dia":1192,"cotacao":34400},{"dia":1195,"cotacao":32700},{"dia":1201,"cotacao":34600},{"dia":1214,"cotacao":33900}
]
},
"bounds": "flush",
"spacing": 134,
"resolve": {"scale": {"color": "independent", "shape": "independent", "x": "independent", "y": "independent"}, "legend": {"color": "independent", "shape": "independent"}},
"hconcat": [
{
  "width": 429, "height": 338,
  "title": {"text": "x 10⁴", "anchor": "start", "frame": "group", "fontSize": 13, "fontWeight": "normal", "font": "Liberation Sans", "offset": 6, "color": "black"},
  "layer": [
    {
      "data": {"name": "serieA"},
      "mark": {"type": "line", "strokeWidth": 1.1, "clip": true},
      "encoding": {
        "x": {"field": "dia", "type": "quantitative", "scale": {"domain": [0, 1500], "nice": false}, "axis": {"orient": "bottom", "values": [0, 500, 1000, 1500], "format": "d", "title": "Evolução diária", "grid": true, "tickSize": -4, "labelPadding": 10, "titlePadding": 3}},
        "y": {"field": "cotacao", "type": "quantitative", "scale": {"domain": [10000, 35000], "nice": false, "zero": false}, "axis": {"orient": "left", "values": [10000, 15000, 20000, 25000, 30000, 35000], "labelExpr": "'' + datum.value / 10000", "title": "Cotação", "grid": true, "tickSize": -4, "labelPadding": 8, "titlePadding": 8}},
        "color": {"datum": "Série original", "type": "nominal", "scale": {"domain": ["Série original", "Padrões de treinamento"], "range": ["black", "red"]}, "legend": {"title": null, "orient": "none", "legendX": 227, "legendY": 6}}
      }
    },
    {
      "data": {"name": "treinoA"},
      "mark": {"type": "point", "filled": false, "size": 70, "strokeWidth": 1, "opacity": 1},
      "encoding": {
        "x": {"field": "dia", "type": "quantitative", "scale": {"domain": [0, 1500], "nice": false}, "axis": {"orient": "top", "values": [0, 500, 1000, 1500], "labels": false, "title": null, "grid": false, "tickSize": -4}},
        "y": {"field": "cotacao", "type": "quantitative", "scale": {"domain": [10000, 35000], "nice": false, "zero": false}, "axis": {"orient": "right", "values": [10000, 15000, 20000, 25000, 30000, 35000], "labels": false, "title": null, "grid": false, "tickSize": -4}},
        "color": {"datum": "Padrões de treinamento", "type": "nominal", "scale": {"domain": ["Série original", "Padrões de treinamento"], "range": ["black", "red"]}, "legend": {"title": null, "orient": "none", "legendX": 227, "legendY": 6}},
        "shape": {"datum": "Padrões de treinamento", "type": "nominal", "scale": {"domain": ["Série original", "Padrões de treinamento"], "range": ["M-4.8,0H4.8", "circle"]}, "legend": {"title": null, "orient": "none", "legendX": 227, "legendY": 6}}
      }
    }
  ],
  "resolve": {"axis": {"x": "independent", "y": "independent"}}
},
{
  "width": 429, "height": 338,
  "title": {"text": "x 10⁴", "anchor": "start", "frame": "group", "fontSize": 13, "fontWeight": "normal", "font": "Liberation Sans", "offset": 6, "color": "black"},
  "layer": [
    {
      "data": {"name": "serieB"},
      "mark": {"type": "line", "strokeWidth": 1.1, "clip": true},
      "encoding": {
        "x": {"field": "dia", "type": "quantitative", "scale": {"domain": [0, 1400], "nice": false}, "axis": {"orient": "bottom", "values": [0, 200, 400, 600, 800, 1000, 1200, 1400], "format": "d", "title": "Evolução diária", "grid": true, "tickSize": -4, "labelPadding": 10, "titlePadding": 3}},
        "y": {"field": "cotacao", "type": "quantitative", "scale": {"domain": [10000, 35000], "nice": false, "zero": false}, "axis": {"orient": "left", "values": [10000, 15000, 20000, 25000, 30000, 35000], "labelExpr": "'' + datum.value / 10000", "title": "Cotação", "grid": true, "tickSize": -4, "labelPadding": 8, "titlePadding": 8}},
        "color": {"datum": "Série original", "type": "nominal", "scale": {"domain": ["Série original", "Padrões de treinamento"], "range": ["black", "red"]}, "legend": {"title": null, "orient": "none", "legendX": 76, "legendY": 13, "rowPadding": 6, "padding": 5}}
      }
    },
    {
      "data": {"name": "treinoB"},
      "mark": {"type": "point", "filled": false, "size": 70, "strokeWidth": 1, "opacity": 1},
      "encoding": {
        "x": {"field": "dia", "type": "quantitative", "scale": {"domain": [0, 1400], "nice": false}, "axis": {"orient": "top", "values": [0, 200, 400, 600, 800, 1000, 1200, 1400], "labels": false, "title": null, "grid": false, "tickSize": -4}},
        "y": {"field": "cotacao", "type": "quantitative", "scale": {"domain": [10000, 35000], "nice": false, "zero": false}, "axis": {"orient": "right", "values": [10000, 15000, 20000, 25000, 30000, 35000], "labels": false, "title": null, "grid": false, "tickSize": -4}},
        "color": {"datum": "Padrões de treinamento", "type": "nominal", "scale": {"domain": ["Série original", "Padrões de treinamento"], "range": ["black", "red"]}, "legend": {"title": null, "orient": "none", "legendX": 76, "legendY": 13, "rowPadding": 6, "padding": 5}},
        "shape": {"datum": "Padrões de treinamento", "type": "nominal", "scale": {"domain": ["Série original", "Padrões de treinamento"], "range": ["M-4.8,0H4.8", "circle"]}, "legend": {"title": null, "orient": "none", "legendX": 76, "legendY": 13, "rowPadding": 6, "padding": 5}}
      }
    }
  ],
  "resolve": {"axis": {"x": "independent", "y": "independent"}}
}
]
}
